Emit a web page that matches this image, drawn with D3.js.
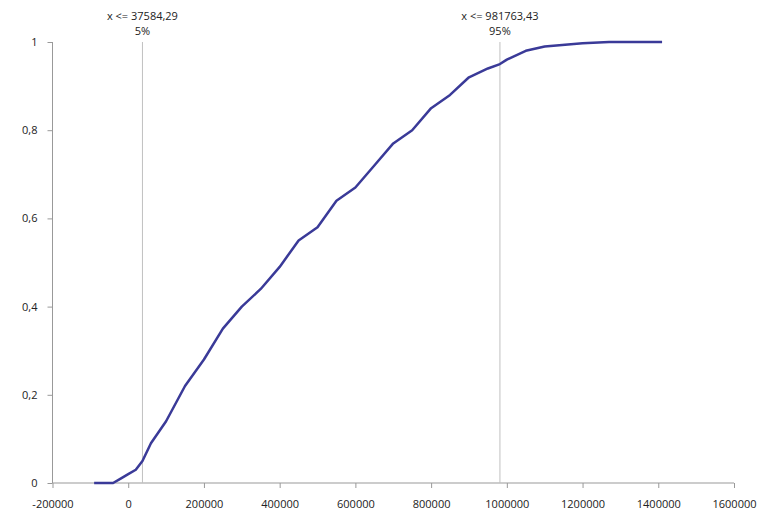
<!DOCTYPE html>
<html><head><meta charset="utf-8">
<script src="https://cdn.jsdelivr.net/npm/d3@7"></script>
<style>
body{margin:0;background:#fff;}
text{font-family:"Open Sans","Liberation Sans",sans-serif;font-size:11px;fill:#222;}
</style></head>
<body><div id="chart"></div>
<script>
"use strict";

const xValues = [-90000, -40000, -20000, 0, 20000, 37584, 60000, 100000, 150000, 200000, 250000, 300000,
  350000, 400000, 450000, 500000, 550000, 600000, 650000, 700000, 750000, 800000, 850000, 900000,
  950000, 981763, 1000000, 1050000, 1100000, 1200000, 1270000, 1410000];
const yValues = [0, 0, 0.01, 0.02, 0.03, 0.05, 0.09, 0.14, 0.22, 0.28, 0.35, 0.4,
  0.44, 0.49, 0.55, 0.58, 0.64, 0.67, 0.72, 0.77, 0.8, 0.85, 0.88, 0.92,
  0.94, 0.95, 0.96, 0.98, 0.99, 0.997, 1, 1];
const xTicks = [-200000, 0, 200000, 400000, 600000, 800000, 1000000, 1200000, 1400000, 1600000];
const yTicks = [0, 0.2, 0.4, 0.6, 0.8, 1];
const markers = [
  { x: 37584.29, label: "x <= 37584,29", pct: "5%" },
  { x: 981763.43, label: "x <= 981763,43", pct: "95%" },
];

const svg = d3.select("#chart").append("svg").attr("width", 768).attr("height", 521);
const xScale = d3.scaleLinear().domain([-200000, 1600000]).range([52.5, 734]);
const yScale = d3.scaleLinear().domain([0, 1]).range([483, 42]);
const fmt = (d) => String(d).replace(".", ",");

// axes
const xAxis = svg.append("g").attr("transform", "translate(0,483)")
  .call(d3.axisBottom(xScale).tickValues(xTicks).tickSize(5).tickPadding(12).tickFormat((d) => d));
const yAxis = svg.append("g").attr("transform", "translate(52.5,0)")
  .call(d3.axisLeft(yScale).tickValues(yTicks).tickSize(5).tickPadding(10).tickFormat(fmt));
[xAxis, yAxis].forEach((a) => {
  a.selectAll("path,line").attr("stroke", "#999");
  a.select(".domain").attr("d", a === xAxis ? "M52.5,0H734" : "M0,483V42");
  a.selectAll("text").style("font-size", "11px").attr("fill", "#222");
});

// marker lines
markers.forEach((m) => {
  const x = xScale(m.x);
  svg.append("line").attr("x1", x).attr("x2", x).attr("y1", 42).attr("y2", 483)
    .attr("stroke", "#c0c0c0").attr("stroke-width", 1);
  svg.append("text").attr("x", x).attr("y", 20).attr("text-anchor", "middle").text(m.label);
  svg.append("text").attr("x", x).attr("y", 35).attr("text-anchor", "middle").text(m.pct);
});

// cumulative curve
const data = xValues.map((x, i) => ({ x: x, y: yValues[i] }));
svg.append("path").datum(data)
  .attr("d", d3.line().x((d) => xScale(d.x)).y((d) => yScale(d.y)))
  .attr("fill", "none").attr("stroke", "#3a3a98").attr("stroke-width", 2.5)
  .attr("stroke-linejoin", "round");
</script></body></html>
